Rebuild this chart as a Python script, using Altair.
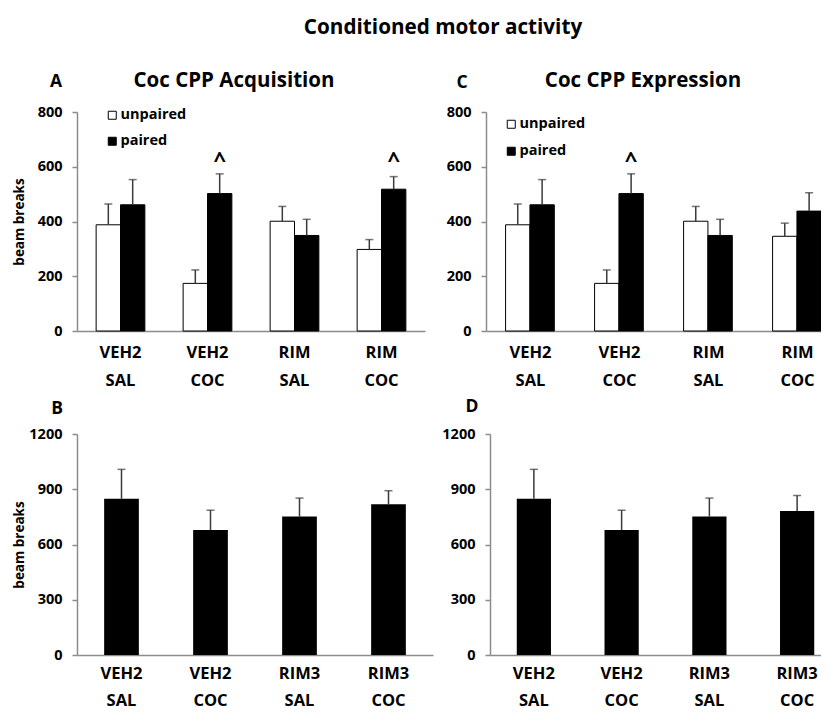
import altair as alt
import pandas as pd

FONT = "Open Sans"

# ---- data ----
line1_top = ["VEH2", "VEH2", "RIM", "RIM"]
line1_bot = ["VEH2", "VEH2", "RIM3", "RIM3"]
line2 = ["SAL", "COC", "SAL", "COC"]
series = ["unpaired", "paired"]

acq_unpaired = [388, 174, 401, 298]
acq_unpaired_err = [76, 49, 54, 36]
acq_paired = [461, 502, 349, 518]
acq_paired_err = [92, 72, 59, 46]
acq_marks = ["", "^", "", "^"]

exp_unpaired = [388, 174, 401, 346]
exp_unpaired_err = [76, 49, 54, 48]
exp_paired = [461, 502, 349, 438]
exp_paired_err = [92, 72, 59, 67]
exp_marks = ["", "^", "", ""]

caret_level = 600

acq_total = [848, 679, 752, 818]
acq_total_err = [160, 107, 100, 74]
exp_total = [848, 679, 752, 782]
exp_total_err = [160, 107, 100, 84]

GRAY = "#8c8c8c"
ERR = "#3a3a3a"


def x_enc(keys, pad_inner, label_pad, line_h):
    return alt.X(
        "key:N", sort=keys,
        scale=alt.Scale(paddingInner=pad_inner, paddingOuter=pad_inner / 2),
        axis=alt.Axis(title=None, labelAngle=0, ticks=False, domainColor=GRAY,
                      domainWidth=1.5, labelExpr="split(datum.label, '|')",
                      labelLineHeight=line_h, labelPadding=label_pad,
                      labelFont=FONT, labelFontSize=16.5, labelFontWeight="bold",
                      labelColor="black"))


def y_enc(field, top, step, show_title, extent):
    return alt.Y(
        field, scale=alt.Scale(domain=[0, top], nice=False),
        axis=alt.Axis(title="beam breaks" if show_title else None,
                      values=list(range(0, top + 1, step)), format="d", grid=False,
                      domainColor=GRAY, domainWidth=1.5, tickColor=GRAY, tickSize=5,
                      tickWidth=1.5, labelPadding=10, labelFont=FONT,
                      labelFontSize=14.5, labelFontWeight="bold", labelColor="black",
                      titleFont=FONT, titleFontSize=13.5, titleFontWeight="bold",
                      titleColor="black", titlePadding=0,
                      minExtent=extent, maxExtent=extent))


def header(letter, lx, ly, title=None, tx=None, ty=None):
    layers = [alt.Chart(pd.DataFrame({"t": [letter]})).mark_text(
        font=FONT, fontSize=17.5, fontWeight="bold", color="black",
        align="center", baseline="alphabetic").encode(
        x=alt.value(lx), y=alt.value(ly), text="t:N")]
    if title:
        layers.append(alt.Chart(pd.DataFrame({"t": [title]})).mark_text(
            font=FONT, fontSize=20.5, fontWeight="bold", color="black",
            align="center", baseline="alphabetic").encode(
            x=alt.value(tx), y=alt.value(ty), text="t:N"))
    return layers


def grouped(line1, unp, unp_err, pai, pai_err, marks, letter, title, lx, ly, tx, ty,
            width, show_title, extent, legx, legy, rowpad):
    keys = [a + "|" + b for a, b in zip(line1, line2)]
    rows = []
    for i, k in enumerate(keys):
        rows.append({"key": k, "series": "unpaired", "value": unp[i],
                     "top": unp[i] + unp_err[i], "mark": ""})
        rows.append({"key": k, "series": "paired", "value": pai[i],
                     "top": pai[i] + pai_err[i], "mark": marks[i]})
    df = pd.DataFrame(rows)
    df["caret"] = caret_level
    xe = x_enc(keys, 0.44, 13, 28)
    xo = alt.XOffset("series:N", sort=series, scale=alt.Scale(domain=series))

    def ye(f):
        return y_enc(f, 800, 200, show_title, extent)

    base = alt.Chart(df)
    bars = base.mark_bar(stroke="black", strokeWidth=1).encode(
        x=xe, xOffset=xo, y=ye("value:Q"),
        color=alt.Color("series:N", scale=alt.Scale(domain=series, range=["white", "black"]),
                        legend=alt.Legend(title=None, orient="none", legendX=legx, legendY=legy,
                                          symbolType="square", symbolSize=64,
                                          symbolStrokeColor="black", symbolStrokeWidth=1,
                                          symbolOpacity=1, labelFont=FONT, labelFontSize=14.5,
                                          labelFontWeight="bold", labelColor="black",
                                          rowPadding=rowpad, labelOffset=1)))
    rule = base.mark_rule(color=ERR, strokeWidth=1.5).encode(
        x=xe, xOffset=xo, y=ye("value:Q"), y2="top:Q")
    cap = base.mark_tick(color=ERR, thickness=1.5, size=8).encode(
        x=xe, xOffset=xo, y=ye("top:Q"))
    car = base.transform_filter("datum.mark != ''").mark_text(
        font=FONT, fontSize=22, fontWeight="bold", color="black", baseline="alphabetic").encode(
        x=xe, xOffset=xo, y=ye("caret:Q"), text="mark:N")
    return alt.layer(bars, rule, cap, car, *header(letter, lx, ly, title, tx, ty)).properties(
        width=width, height=219)


def single(line1, vals, errs, letter, lx, ly, width, show_title, extent):
    keys = [a + "|" + b for a, b in zip(line1, line2)]
    df = pd.DataFrame({"key": keys, "value": vals,
                       "top": [v + e for v, e in zip(vals, errs)]})
    xe = x_enc(keys, 0.61, 10, 27)

    def ye(f):
        return y_enc(f, 1200, 300, show_title, extent)

    base = alt.Chart(df)
    bars = base.mark_bar(color="black").encode(x=xe, y=ye("value:Q"))
    rule = base.mark_rule(color=ERR, strokeWidth=1.5).encode(
        x=xe, y=ye("value:Q"), y2="top:Q")
    cap = base.mark_tick(color=ERR, thickness=1.5, size=8).encode(x=xe, y=ye("top:Q"))
    return alt.layer(bars, rule, cap, *header(letter, lx, ly)).properties(
        width=width, height=221)


pA = grouped(line1_top, acq_unpaired, acq_unpaired_err, acq_paired, acq_paired_err,
             acq_marks, "A", "Coc CPP Acquisition", -21, -25, 157, -25,
             348, True, 51, 28, -4, 11)
pC = grouped(line1_top, exp_unpaired, exp_unpaired_err, exp_paired, exp_paired_err,
             exp_marks, "C", "Coc CPP Expression", -24, -24, 157, -25,
             356, False, 42, 18, 5, 12)
pB = single(line1_bot, acq_total, acq_total_err, "B", -20, -20, 356, True, 51)
pD = single(line1_bot, exp_total, exp_total_err, "D", -18, -22, 351, False, 48)

row1 = alt.hconcat(pA, pC, spacing=19).resolve_scale(color="independent").resolve_legend(
    color="independent")
row2 = alt.hconcat(pB, pD, spacing=8)

chart = alt.vconcat(row1, row2, spacing=9).resolve_scale(color="independent").resolve_legend(
    color="independent").properties(
    title=alt.TitleParams("Conditioned motor activity", font=FONT, fontSize=20.7,
                          fontWeight="bold", color="black", anchor="middle", offset=32, dx=16),
    padding={"left": 4, "top": 9, "right": -21, "bottom": 1},
    background="white",
).configure_view(stroke=None)

chart.save("out.html", embed_options={"renderer": "svg", "actions": False})
